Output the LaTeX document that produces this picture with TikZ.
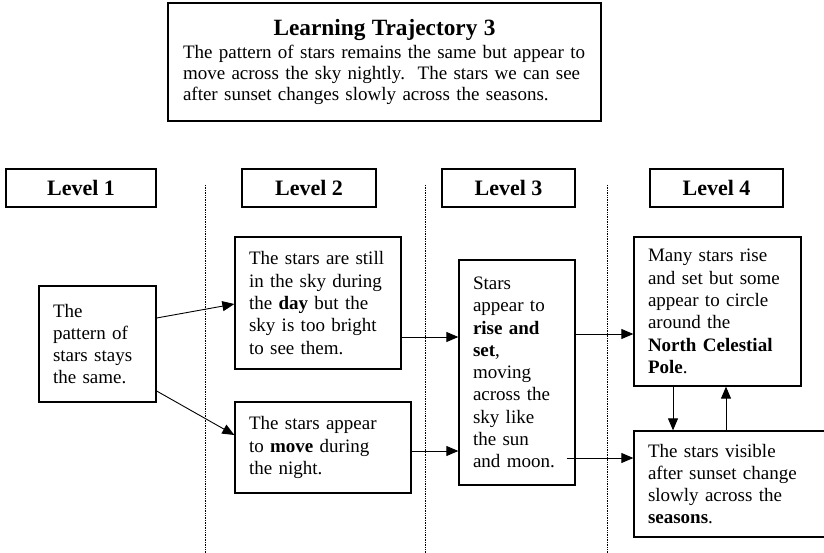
\documentclass[tikz,border=0pt]{standalone}
\usepackage{fontspec}
\setmainfont{Liberation Serif}
\usetikzlibrary{arrows.meta}
\tikzset{
  ideabox/.style={draw, line width=1.3pt, align=left, inner xsep=14pt, inner ysep=0pt,
    font=\fontsize{19}{22.3}\selectfont},
  levelbox/.style={draw, line width=1.3pt, minimum height=38pt, inner sep=0pt,
    font=\bfseries\fontsize{22}{24}\selectfont},
  link/.style={-{Triangle[length=12pt,width=10pt]}, line width=0.9pt},
  divider/.style={densely dotted, line width=0.7pt}
}
\begin{document}
\begin{tikzpicture}[x=1pt,y=-1pt]
      \useasboundingbox (0,0) rectangle (824,553);
      \draw
        (384.5,62) node[draw, line width=1.3pt, align=left, text width=403pt, inner xsep=15pt,
          minimum height=118pt, font=\fontsize{19}{21}\selectfont] (traj)
          {{\centering\bfseries\fontsize{23.3}{24}\selectfont Learning Trajectory 3\par}\vspace{2pt}
           The pattern of stars remains the same but appear to\\
           move across the sky nightly.\ \ The stars we can see\\
           after sunset changes slowly across the seasons.}
        (81,188) node[levelbox, minimum width=150pt] (lev1){Level 1}
        (309,188) node[levelbox, minimum width=134pt] (lev2){Level 2}
        (508.5,188) node[levelbox, minimum width=133pt] (lev3){Level 3}
        (716.5,188) node[levelbox, minimum width=133pt] (lev4){Level 4}
        (97.5,344) node[ideabox, text width=89pt, minimum height=116pt] (same)
          {The\\ pattern of\\ stars stays\\ the same.}
        (318,303) node[ideabox, text width=138pt, minimum height=132pt] (day)
          {The stars are still\\ in the sky during\\ the \textbf{day} but the\\ sky is too bright\\ to see them.}
        (323,447.5) node[ideabox, text width=148pt, minimum height=91pt] (night)
          {The stars appear\\ to \textbf{move} during\\ the night.}
        (517,372.5) node[ideabox, text width=88pt, minimum height=225pt] (riseset)
          {Stars\\ appear to\\ \textbf{rise and}\\ \textbf{set},\\ moving\\ across the\\ sky like\\ the sun\\ and moon.}
        (717.5,311.5) node[ideabox, text width=139pt, minimum height=149pt] (pole)
          {Many stars rise\\ and set but some\\ appear to circle\\ around the\\ \textbf{North Celestial}\\ \textbf{Pole}.}
        (734,484) node[ideabox, text width=172pt, minimum height=106pt] (seasons)
          {The stars visible\\ after sunset change\\ slowly across the\\ \textbf{seasons}.};
      % dotted lines between the levels
      \draw[divider] (205,185) -- (205,553);
      \draw[divider] (425,185) -- (425,553);
      \draw[divider] (607,185) -- (607,553);
      \coordinate (dayOut) at ([yshift=-34pt]day.east);
      \coordinate (nightOut) at ([yshift=-3.5pt]night.east);
      \coordinate (riseOut) at ([yshift=38.5pt]riseset.east);
      \coordinate (moonEnd) at ([xshift=-9pt,yshift=-85.5pt]riseset.east);
      \coordinate (downArr) at ([xshift=-44.5pt]pole.south);
      \coordinate (upArr) at ([xshift=8.5pt]pole.south);
      \begin{scope}[link]
        \draw ([yshift=26pt]same.east) to ([yshift=-1pt]day.west);
        \draw ([yshift=-47pt]same.east) to ([yshift=12.5pt]night.west);
        \draw (dayOut) to (dayOut -| riseset.west);
        \draw (nightOut) to (nightOut -| riseset.west);
        \draw (riseOut) to (riseOut -| pole.west);
        \draw (moonEnd) to (moonEnd -| seasons.west);
        \draw (downArr) to (downArr |- seasons.north);
        \draw (upArr |- seasons.north) to (upArr);
      \end{scope}
    \end{tikzpicture}
\end{document}
